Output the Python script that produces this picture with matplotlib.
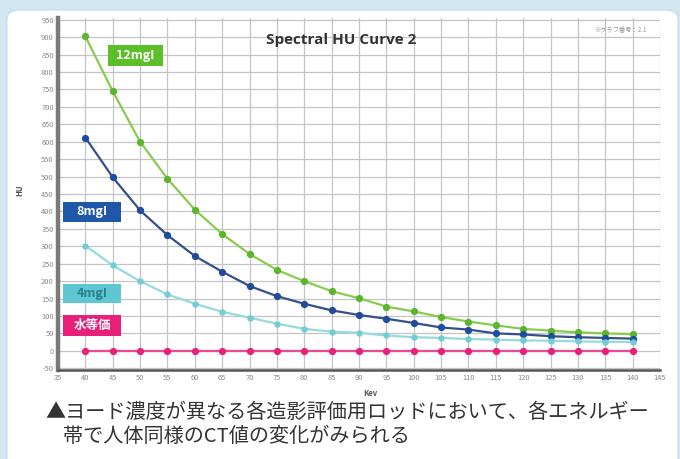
import matplotlib
matplotlib.use("Agg")
import matplotlib.pyplot as plt
from matplotlib.patches import FancyBboxPatch, Rectangle

plt.rcParams['font.family'] = ['Noto Sans CJK JP', 'DejaVu Sans']

# Photon energy (keV) and CT number (HU) per iodine concentration rod
kev = [40, 45, 50, 55, 60, 65, 70, 75, 80, 85, 90, 95, 100, 105, 110, 115, 120, 125, 130, 135, 140]
hu_12mg = [902, 745, 600, 494, 405, 335, 278, 232, 200, 171, 151, 127, 113, 97, 84, 73, 63, 58, 53, 50, 48]
hu_8mg = [612, 498, 403, 332, 272, 227, 186, 157, 135, 116, 103, 92, 80, 67, 61, 50, 47, 42, 39, 37, 35]
hu_4mg = [302, 245, 200, 162, 135, 112, 95, 78, 63, 55, 52, 44, 39, 37, 34, 32, 30, 29, 27, 26, 25]
hu_water = [0, 0, 0, 0, 0, 0, 0, 0, 0, 0, 0, 0, 0, 0, 0, 0, 0, 0, 0, 0, 0]

x_ticks = [35, 40, 45, 50, 55, 60, 65, 70, 75, 80, 85, 90, 95, 100, 105, 110, 115, 120, 125, 130, 135, 140, 145]
y_ticks = [-50, 0, 50, 100, 150, 200, 250, 300, 350, 400, 450, 500, 550, 600, 650, 700, 750, 800, 850, 900, 950]

series = [
    ("12mgI", hu_12mg, "#86cc4e", "#5cb52c", 4.2),
    ("8mgI", hu_8mg, "#34508c", "#1f4c9c", 4.2),
    ("4mgI", hu_4mg, "#95dadd", "#72ccd2", 3.6),
    ("水等価", hu_water, "#ec4a90", "#e8207a", 4.2),
]

W, H = 680, 459
fig = plt.figure(figsize=(W / 100, H / 100), dpi=100)
fig.patch.set_facecolor("#d3e6f4")

# white card behind the chart
card = FancyBboxPatch((7 / W, -0.05), (671 / W), 1 - 10 / H + 0.05,
                      boxstyle="round,pad=0,rounding_size=0.02",
                      transform=fig.transFigure, facecolor="white",
                      edgecolor="#c5dbee", linewidth=0.8, zorder=-10)
fig.patches.append(card)

ax = fig.add_axes([58 / W, 1 - 370 / H, (660 - 58) / W, (370 - 18) / H])
ax.set_facecolor("white")
ax.set_xlim(35, 145)
ax.set_ylim(-55, 955)
ax.set_xticks(x_ticks)
ax.set_yticks(y_ticks)
ax.set_xticklabels([str(v) for v in x_ticks])
ax.set_yticklabels([str(v) for v in y_ticks])
ax.tick_params(axis="both", labelsize=5.4, colors="#888888", length=0, pad=3)
ax.grid(True, color="#c4c4c4", linewidth=0.9)
ax.set_axisbelow(True)
for side in ("top", "right"):
    ax.spines[side].set_visible(False)
ax.spines["left"].set_color("#7a7a7a")
ax.spines["left"].set_linewidth(3.2)
ax.spines["bottom"].set_color("#555555")
ax.spines["bottom"].set_linewidth(1.8)

for name, vals, lc, mc, ms in series:
    ax.plot(kev, vals, color=lc, linewidth=1.6, marker="o", markersize=ms,
            markerfacecolor=mc, markeredgecolor=mc, zorder=3)

# series name tags (pixel boxes: left, top, right, bottom)
tags = [
    ("12mgI", (108, 45, 163, 66), "#5cbf2a", "white"),
    ("8mgI", (63, 202, 121, 222), "#1f58a8", "white"),
    ("4mgI", (63, 284, 121, 303), "#5ec7d2", "#2a7f8c"),
    ("水等価", (63, 315, 121, 336), "#e8207a", "white"),
]
for text, (l, t, r, b), bc, tc in tags:
    fig.patches.append(Rectangle((l / W, 1 - b / H), (r - l) / W, (b - t) / H,
                                 transform=fig.transFigure, facecolor=bc,
                                 edgecolor="none", zorder=5))
    fig.text((l + r) / 2 / W, 1 - (t + b) / 2 / H, text, ha="center", va="center",
             fontsize=9, fontweight="bold", color=tc, zorder=6)

fig.text(341 / W, 1 - 40 / H, "Spectral HU Curve 2", ha="center", va="center",
         fontsize=11, fontweight="bold", color="#333333",
         family=["Open Sans", "DejaVu Sans"])
fig.text(620 / W, 1 - 30 / H, "※グラフ番号：2.1", ha="center", va="center",
         fontsize=4.5, color="#999999")
fig.text(20 / W, 1 - 190 / H, "HU", ha="center", va="center", rotation=90,
         fontsize=5.5, fontweight="bold", color="#555555")
fig.text(370 / W, 1 - 394 / H, "Kev", ha="center", va="center",
         fontsize=5.5, fontweight="bold", color="#555555")

fig.text(45 / W, 1 - 413 / H, "▲ヨード濃度が異なる各造影評価用ロッドにおいて、各エネルギー",
         ha="left", va="center", fontsize=14.5, color="#333333")
fig.text(63 / W, 1 - 437 / H, "帯で人体同様のCT値の変化がみられる",
         ha="left", va="center", fontsize=14.5, color="#333333")

fig.savefig("out.png", dpi=100, facecolor=fig.get_facecolor())
